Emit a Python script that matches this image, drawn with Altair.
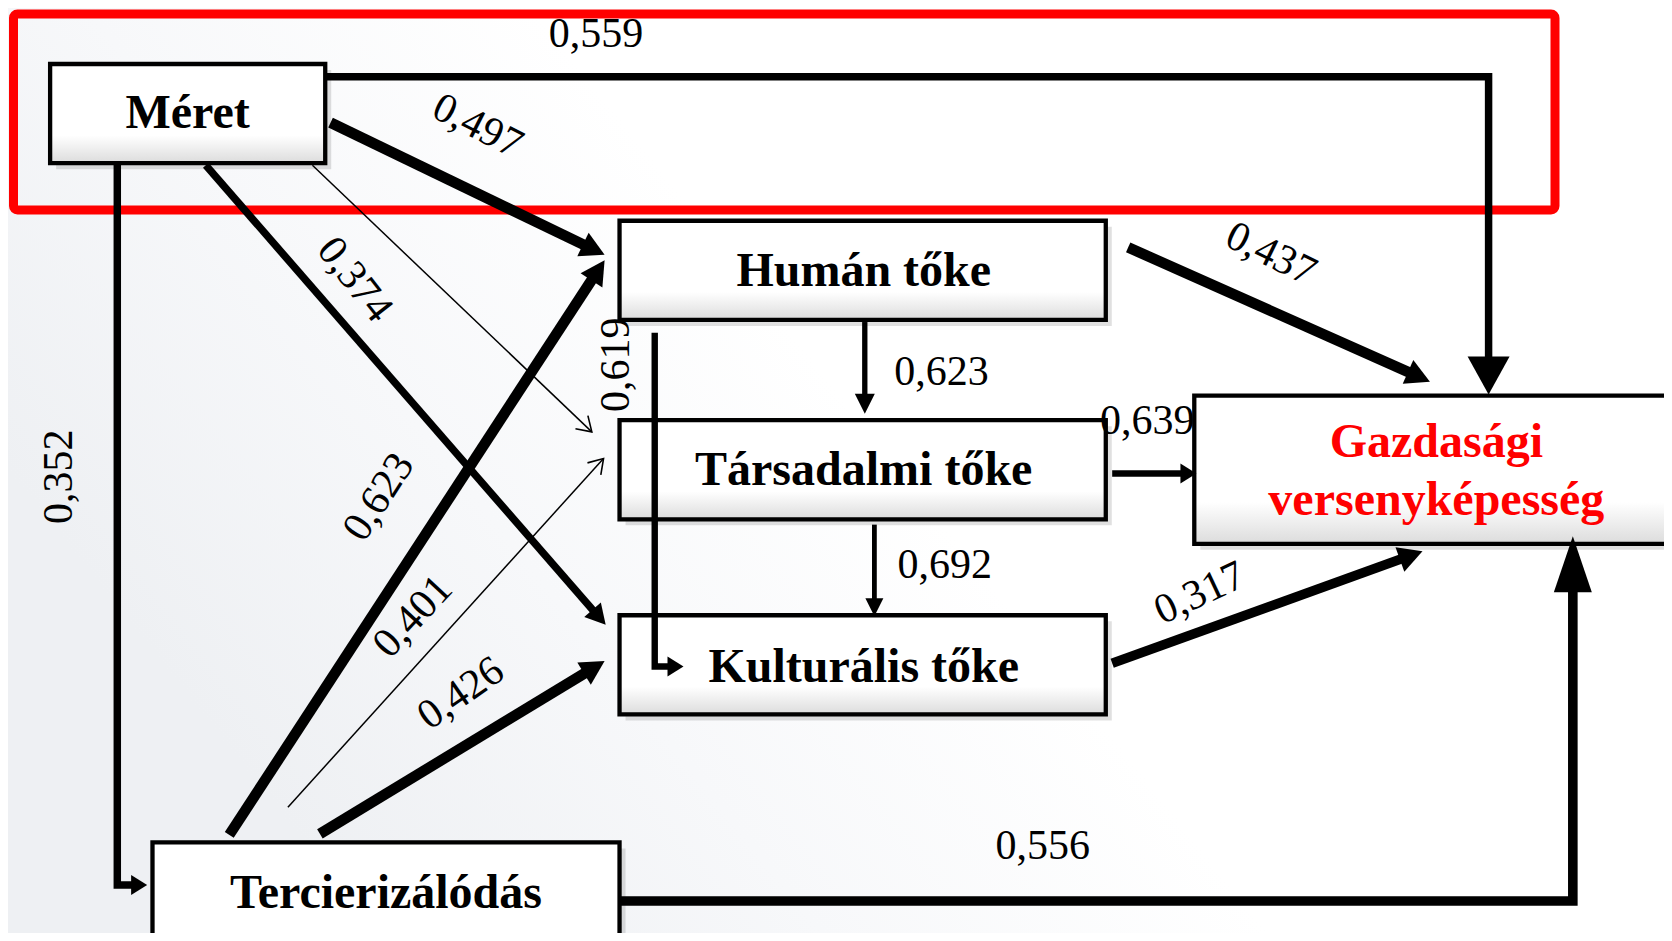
import math
import altair as alt
import pandas as pd

# reference measured on a 1568-wide copy; S converts to page pixels
S = 1672 / 1568
W, H = 1656, 925

# ---------------- data ----------------
nodes = ["Méret", "Humán tőke", "Társadalmi tőke", "Kulturális tőke",
         "Gazdasági versenyképesség", "Tercierizálódás"]
node_lines = [["Méret"], ["Humán tőke"], ["Társadalmi tőke"], ["Kulturális tőke"],
              ["Gazdasági", "versenyképesség"], ["Tercierizálódás"]]
node_color = ["black", "black", "black", "black", "#ff0000", "black"]

edge_from = ["Méret", "Méret", "Méret", "Méret", "Méret",
             "Tercierizálódás", "Tercierizálódás", "Tercierizálódás", "Tercierizálódás",
             "Humán tőke", "Humán tőke", "Humán tőke",
             "Társadalmi tőke", "Társadalmi tőke", "Kulturális tőke"]
edge_to = ["Gazdasági versenyképesség", "Humán tőke", "Kulturális tőke", "Társadalmi tőke", "Tercierizálódás",
           "Humán tőke", "Társadalmi tőke", "Kulturális tőke", "Gazdasági versenyképesség",
           "Társadalmi tőke", "Kulturális tőke", "Gazdasági versenyképesség",
           "Gazdasági versenyképesség", "Kulturális tőke", "Gazdasági versenyképesség"]
edge_coef = ["0,559", "0,497", "0,374", "", "0,352",
             "0,623", "0,401", "0,426", "0,556",
             "0,623", "0,619", "0,437",
             "0,639", "0,692", "0,317"]

# ---------------- layout (1568-scale coordinates) ----------------
box_pos = {
    "Méret": (47, 60, 305, 153),
    "Humán tőke": (581, 207, 1037, 300),
    "Társadalmi tőke": (581, 394, 1037, 487),
    "Kulturális tőke": (581, 577, 1037, 670),
    "Gazdasági versenyképesség": (1120, 371, 1600, 510),
    "Tercierizálódás": (143, 790, 581, 910),
}
text_pos = {
    "Méret": [(176, 107)],
    "Humán tőke": [(810, 255)],
    "Társadalmi tőke": [(810, 442)],
    "Kulturális tőke": [(810, 626)],
    "Gazdasági versenyképesség": [(1347, 415), (1347, 470)],
    "Tercierizálódás": [(362, 838)],
}
edge_path = [
    [(305, 72), (1396, 72), (1396, 370)],
    [(310, 115), (567, 239)],
    [(193, 155), (568, 586)],
    [(293, 155), (555, 405)],
    [(110, 153), (110, 830), (138, 830)],
    [(215, 783), (567, 244)],
    [(270, 757), (566, 430)],
    [(300, 782), (567, 620)],
    [(581, 845), (1475, 845), (1475, 503)],
    [(811, 302), (811, 388)],
    [(614, 312), (614, 625), (641, 625)],
    [(1058, 232), (1341, 358)],
    [(1043, 444), (1122, 444)],
    [(820, 492), (820, 578)],
    [(1043, 622), (1334, 517)],
]
edge_width = [7, 10, 7, 1.4, 7, 10, 1.4, 10, 9, 5, 6, 10, 6, 4.5, 9]
# head: (width, length, filled)
edge_head = [(42, 38, True), (26, 24, True), (22, 20, True), (18, 14, False), (20, 16, True),
             (26, 24, True), (18, 14, False), (26, 24, True), (38, 56, True),
             (20, 20, True), (20, 16, True), (26, 24, True), (20, 16, True), (18, 18, True), (26, 24, True)]
label_pos = [(559, 32, 0), (448, 118, 27), (333, 262, 52), (0, 0, 0), (55, 447, 270),
             (355, 466, 303), (387, 578, 313), (432, 650, 325), (978, 793, 0),
             (883, 349, 0), (578, 342, 270), (1192, 238, 26), (1076, 395, 0), (886, 530, 0), (1125, 556, 335)]
red_frame = (13.5, 14, 1555, 210)  # page px

# ---------------- build tables ----------------
line_rows, head_rows, open_rows, lab_rows = [], [], [], []
for i, pts in enumerate(edge_path):
    pts = [(x * S, y * S) for x, y in pts]
    hw, hl, filled = edge_head[i]
    (xa, ya), (xb, yb) = pts[-2], pts[-1]
    d = math.hypot(xb - xa, yb - ya)
    ux, uy = (xb - xa) / d, (yb - ya) / d
    ang = math.degrees(math.atan2(ux, -uy)) % 360
    draw_pts = list(pts)
    if filled:
        cut = hl * 0.8
        draw_pts[-1] = (xb - ux * cut, yb - uy * cut)
        head_rows.append({"x": xb, "y": yb, "ang": ang,
                          "path": f"M0,0L{-hw/2:.1f},{hl:.1f}L{hw/2:.1f},{hl:.1f}Z"})
    else:
        open_rows.append({"x": xb, "y": yb, "ang": ang,
                          "path": f"M{-hw/2:.1f},{hl:.1f}L0,0L{hw/2:.1f},{hl:.1f}"})
    for k, (x, y) in enumerate(draw_pts):
        line_rows.append({"edge": f"{edge_from[i]}->{edge_to[i]}#{i}", "o": k, "x": x, "y": y,
                          "w": edge_width[i] * S})
    if edge_coef[i]:
        lx, ly, la = label_pos[i]
        lab_rows.append({"t": edge_coef[i], "x": lx * S, "y": ly * S, "ang": la})

box_rows, txt_rows = [], []
for n, name in enumerate(nodes):
    x1, y1, x2, y2 = box_pos[name]
    box_rows.append({"name": name, "x": x1 * S, "x2": x2 * S, "y": y1 * S, "y2": y2 * S})
    for t, (tx, ty) in zip(node_lines[n], text_pos[name]):
        txt_rows.append({"t": t, "x": tx * S, "y": ty * S, "c": node_color[n]})

lines_df = pd.DataFrame(line_rows)
heads_df = pd.DataFrame(head_rows)
open_df = pd.DataFrame(open_rows)
labs_df = pd.DataFrame(lab_rows)
boxes_df = pd.DataFrame(box_rows)
txt_df = pd.DataFrame(txt_rows)

xs = alt.Scale(domain=[8, 8 + W], nice=False, zero=False)
ys = alt.Scale(domain=[8, 8 + H], nice=False, zero=False, reverse=True)
X = lambda f="x": alt.X(f"{f}:Q", scale=xs, axis=None)
Y = lambda f="y": alt.Y(f"{f}:Q", scale=ys, axis=None)

FONT = "Liberation Serif"

# background soft shading (faint grey on the left fading to white)
bg_df = pd.DataFrame([{"x": 8, "x2": 8 + W, "y": 8, "y2": 8 + H}])
bg = alt.Chart(bg_df).mark_rect(
    fill=alt.Gradient(gradient="linear", x1=0, y1=0.5, x2=0.45, y2=0.3,
                      stops=[alt.GradientStop(color="#eef0f3", offset=0),
                             alt.GradientStop(color="#f7f8fa", offset=0.5),
                             alt.GradientStop(color="#ffffff", offset=1)])
).encode(x=X(), x2="x2:Q", y=Y(), y2="y2:Q")

red_df = pd.DataFrame([{"x": red_frame[0], "x2": red_frame[2], "y": red_frame[1], "y2": red_frame[3]}])
red = alt.Chart(red_df).mark_rect(fillOpacity=0, stroke="#ff0000", strokeWidth=9, cornerRadius=4).encode(
    x=X(), x2="x2:Q", y=Y(), y2="y2:Q")

shadow = alt.Chart(boxes_df).mark_rect(color="#000000", opacity=0.12, clip=True).transform_calculate(
    sx="datum.x + 6", sx2="datum.x2 + 6", sy="datum.y + 6", sy2="datum.y2 + 6"
).encode(x=X("sx"), x2="sx2:Q", y=Y("sy"), y2="sy2:Q")

boxes = alt.Chart(boxes_df).mark_rect(
    fill=alt.Gradient(gradient="linear", x1=0, y1=0, x2=0, y2=1,
                      stops=[alt.GradientStop(color="#ffffff", offset=0),
                             alt.GradientStop(color="#ffffff", offset=0.72),
                             alt.GradientStop(color="#dcdcdc", offset=1)]),
    stroke="black", strokeWidth=4.3, clip=True
).encode(x=X(), x2="x2:Q", y=Y(), y2="y2:Q")

lines = alt.Chart(lines_df).mark_line(color="black", strokeCap="butt", strokeJoin="miter", clip=True).encode(
    x=X(), y=Y(), detail="edge:N", order="o:Q",
    strokeWidth=alt.StrokeWidth("w:Q", scale=None))

heads = alt.Chart(heads_df).mark_point(filled=True, color="black", opacity=1, size=4, clip=True).encode(
    x=X(), y=Y(), shape=alt.Shape("path:N", scale=None), angle=alt.Angle("ang:Q", scale=None))

openheads = alt.Chart(open_df).mark_point(filled=False, color="black", opacity=1, size=4,
                                          strokeWidth=1.6, clip=True).encode(
    x=X(), y=Y(), shape=alt.Shape("path:N", scale=None), angle=alt.Angle("ang:Q", scale=None))

texts = alt.Chart(txt_df).mark_text(font=FONT, fontSize=48, fontWeight="bold", baseline="middle",
                                    align="center").encode(
    x=X(), y=Y(), text="t:N", color=alt.Color("c:N", scale=None))

labels = alt.Chart(labs_df).mark_text(font=FONT, fontSize=42, color="black", baseline="middle",
                                      align="center").encode(
    x=X(), y=Y(), text="t:N", angle=alt.Angle("ang:Q", scale=None))

chart = alt.layer(bg, red, shadow, boxes, lines, heads, openheads, texts, labels).properties(
    width=W, height=H, padding=0, autosize="none", background="white"
).configure_view(stroke=None)

chart.save("out.html", embed_options={"renderer": "svg", "actions": False})
